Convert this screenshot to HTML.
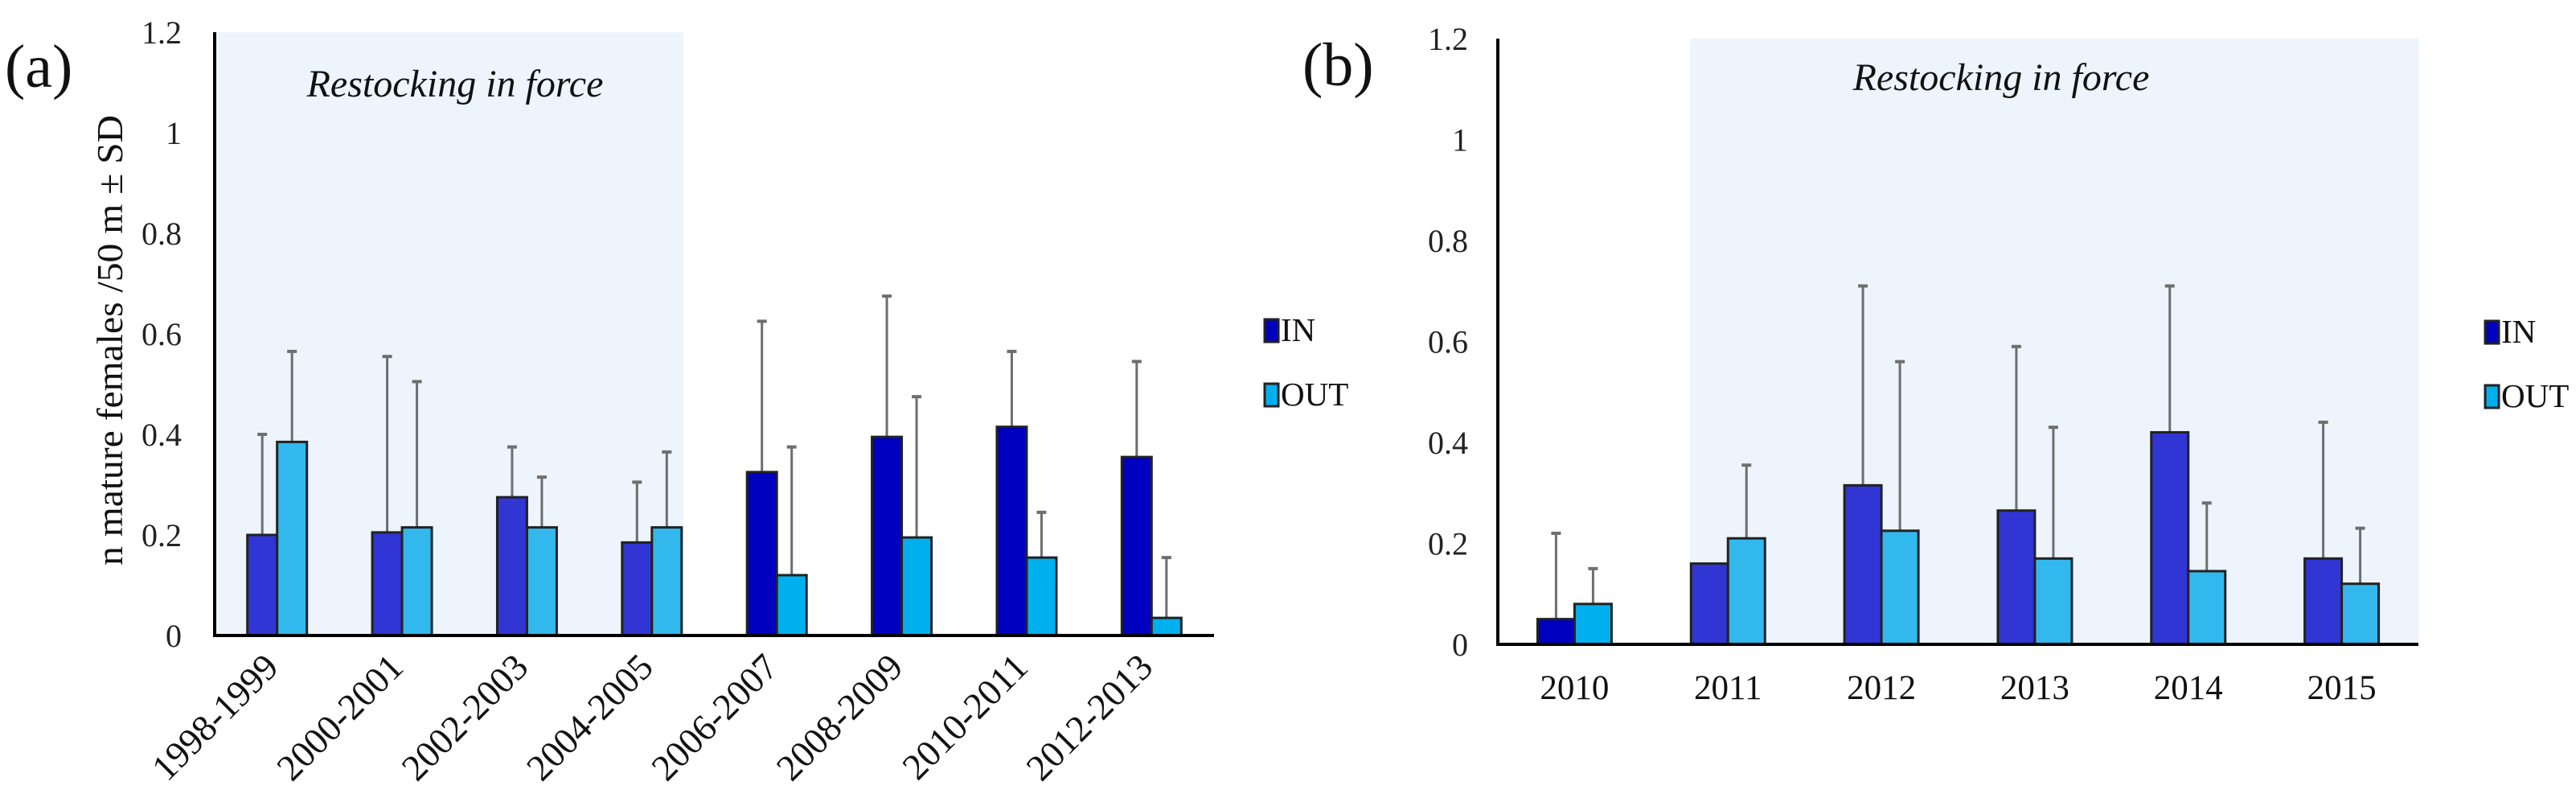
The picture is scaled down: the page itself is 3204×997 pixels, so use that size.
<!DOCTYPE html>
<html><head><meta charset="utf-8"><style>
body{margin:0;background:#fff}
svg{display:block;font-family:"Liberation Serif",serif}
</style></head><body>
<svg id="c" width="3204" height="997" viewBox="0 0 3204 997" xmlns="http://www.w3.org/2000/svg"></svg>
<script>
const catsA=["1998-1999","2000-2001","2002-2003","2004-2005","2006-2007","2008-2009","2010-2011","2012-2013"];
const inA=[0.2,0.205,0.275,0.185,0.325,0.395,0.415,0.355];
const outA=[0.385,0.215,0.215,0.215,0.12,0.195,0.155,0.035];
const inTopA=[0.4,0.555,0.375,0.305,0.625,0.675,0.565,0.545];
const outTopA=[0.565,0.505,0.315,0.365,0.375,0.475,0.245,0.155];
const shadeA=[true,true,true,true,false,false,false,false];
const catsB=["2010","2011","2012","2013","2014","2015"];
const inB=[0.05,0.16,0.315,0.265,0.42,0.17];
const outB=[0.08,0.21,0.225,0.17,0.145,0.12];
const inTopB=[0.22,null,0.71,0.59,0.71,0.44];
const outTopB=[0.15,0.355,0.56,0.43,0.28,0.23];
const shadeB=[false,true,true,true,true,true];
const ticks=[0,0.2,0.4,0.6,0.8,1,1.2];
const tickLbl=["0","0.2","0.4","0.6","0.8","1","1.2"];

const svg=document.getElementById('c');
const NS="http://www.w3.org/2000/svg";
function mk(t,a,p){const e=document.createElementNS(NS,t);for(const k in a)e.setAttribute(k,a[k]);(p||svg).appendChild(e);return e;}

function panel(o){
  const g=mk('g',{});
  
  
  const y=v=>o.y0-(o.y0-o.y1)*v/1.2;
  const bw=(o.x1-o.x0)/o.cats.length;
  const sh=mk('rect',{x:o.sx0,y:o.y1,width:o.sx1-o.sx0,height:o.y0-o.y1,fill:'#edf4fb'},g);
  
  
  const st=mk('text',{x:o.stx,y:o.sty,'font-size':48,'font-style':'italic','text-anchor':'middle',fill:'#111'},g);
  st.textContent='Restocking in force';
  
  
  ticks.forEach((t,i)=>{
    const tx=mk('text',{x:o.tickX,y:y(t)+14,'font-size':40,'text-anchor':'end',fill:'#222'},g);
    tx.textContent=tickLbl[i];
    
    
  });
  o.cats.forEach((c,i)=>{
    const cx=o.x0+bw*(i+0.5);
    const sd=o.shade[i];
    const cIn=sd?'#3035d4':'#0000c0', cOut=sd?'#33b8ee':'#00b0ee';
    const w=o.barW;
    [[o.inV[i],o.inT[i],cx-w,cIn,'bar-in'],[o.outV[i],o.outT[i],cx,cOut,'bar-out']].forEach(b=>{
      if(b[1]!=null){
        const bc=b[2]+w/2;
        const l=mk('line',{x1:bc,x2:bc,y1:y(b[0]),y2:y(b[1]),stroke:'#6e6e6e','stroke-width':3},g);
        
        
        const cp=mk('line',{x1:bc-6,x2:bc+6,y1:y(b[1]),y2:y(b[1]),stroke:'#6e6e6e','stroke-width':4},g);
        
        
      }
      const r=mk('rect',{x:b[2],y:y(b[0]),width:w,height:y(0)-y(b[0]),fill:b[3],stroke:'#222','stroke-width':3},g);
      
      
    });
    let t;
    if(o.rot){
      t=mk('text',{x:cx+4,y:o.y0+42,'font-size':46,'text-anchor':'end',fill:'#111',transform:`rotate(-45 ${cx+4} ${o.y0+42})`},g);
    } else {
      t=mk('text',{x:cx,y:o.y0+68,'font-size':43,'text-anchor':'middle',fill:'#111'},g);
    }
    t.textContent=c;
    
    
  });
  const ax=mk('path',{d:`M${o.x0} ${o.y1} V${o.y0} H${o.x1}`,fill:'none',stroke:'#000','stroke-width':4},g);
  
  
  const pl=mk('text',{x:o.lblX,y:o.lblY,'font-size':76,fill:'#111'},g);
  pl.textContent=o.lbl;
  
  
  [['IN','#0000c0',o.legY],['OUT','#00b0ee',o.legY+80]].forEach(L=>{
    const r=mk('rect',{x:o.legX,y:L[2]-13,width:17,height:28,fill:L[1],stroke:'#222','stroke-width':3},g);
    
    
    const t=mk('text',{x:o.legX+20,y:L[2]+14,'font-size':41,fill:'#111'},g);
    t.textContent=L[0];
    
    
  });
}
panel({name:'panel-a',cats:catsA,inV:inA,outV:outA,inT:inTopA,outT:outTopA,shade:shadeA,
  x0:267,x1:1510,y0:790,y1:40,sx0:269,sx1:850,stx:566,sty:120,tickX:226,barW:37,rot:true,
  lbl:'(a)',lblX:6,lblY:108,legX:1573,legY:410});
panel({name:'panel-b',cats:catsB,inV:inB,outV:outB,inT:inTopB,outT:outTopB,shade:shadeB,
  x0:1863,x1:3008,y0:801,y1:48,sx0:2102,sx1:3008,stx:2489,sty:112,tickX:1826,barW:46,rot:false,
  lbl:'(b)',lblX:1620,lblY:106,legX:3091,legY:412});
const yt=mk('text',{x:0,y:0,'font-size':46,'text-anchor':'middle',textLength:560,lengthAdjust:'spacingAndGlyphs',fill:'#111',transform:'translate(152,423) rotate(-90)'});
yt.textContent='n mature females /50 m ± SD';


</script>
</body></html>
